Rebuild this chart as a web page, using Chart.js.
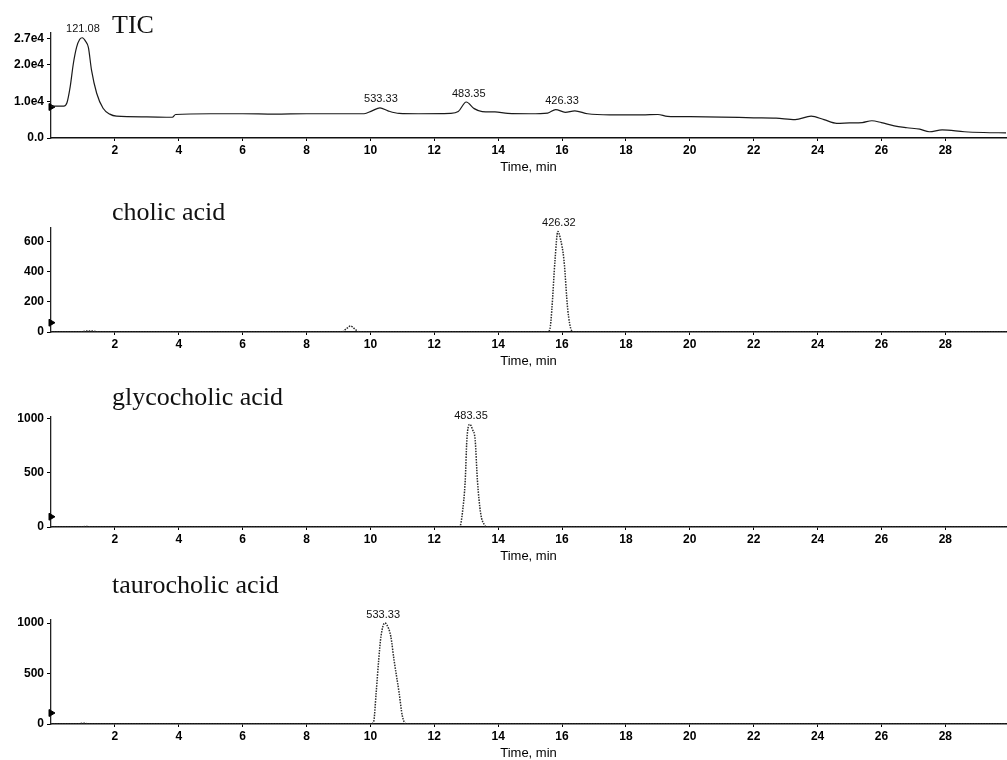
<!DOCTYPE html>
<html>
<head>
<meta charset="utf-8">
<script src="https://cdn.jsdelivr.net/npm/chart.js@4.4.0/dist/chart.umd.min.js"></script>
<style>
body{margin:0;background:#fff;}
#wrap{position:relative;width:1007px;height:760px;overflow:hidden;background:#fff;}
canvas{position:absolute;left:0;}
.ttl{position:absolute;left:112px;font:26px/26px "Liberation Serif","Times New Roman",serif;color:#111;white-space:nowrap;}
</style>
</head>
<body>
<div id="wrap">
<canvas id="tic-chart" width="1011" height="178" style="top:0px"></canvas>
<canvas id="cholic-chart" width="1011" height="182" style="top:190px"></canvas>
<canvas id="glyco-chart" width="1011" height="184" style="top:380px"></canvas>
<canvas id="tauro-chart" width="1011" height="191" style="top:570px"></canvas>
<div class="ttl" style="top:12px">TIC</div>
<div class="ttl" style="top:199px">cholic acid</div>
<div class="ttl" style="top:384px">glycocholic acid</div>
<div class="ttl" style="top:572px">taurocholic acid</div>
</div>
<script>
// retention time axis (min)
const xTicks = [2, 4, 6, 8, 10, 12, 14, 16, 18, 20, 22, 24, 26, 28]
const xTitle = "Time, min"

// TIC
const ticTime = [0, 0.4, 0.5, 0.6, 0.7, 0.8, 0.9, 0.98, 1.08, 1.17, 1.27, 1.43, 1.63, 1.84, 2.05, 3.0, 3.8, 3.9, 5.0, 6.0, 7.0, 8.0, 9.0, 9.8, 10.05, 10.3, 10.55, 10.9, 11.5, 12.5, 12.75, 13.0, 13.25, 13.5, 13.9, 14.3, 15.0, 15.55, 15.8, 16.1, 16.4, 16.8, 17.5, 18.5, 19.0, 19.3, 20.0, 21.0, 22.0, 22.7, 23.3, 23.8, 24.2, 24.6, 25.0, 25.4, 25.7, 26.0, 26.4, 26.8, 27.2, 27.5, 27.9, 28.6, 29.2, 29.9]
const ticIntensity = [8700, 8700, 9600, 13900, 20300, 24700, 26900, 27300, 26400, 24700, 18400, 12200, 8100, 6500, 5950, 5750, 5650, 6400, 6600, 6600, 6500, 6600, 6600, 6600, 7400, 8200, 7400, 6700, 6600, 6700, 7200, 9800, 8000, 7200, 7100, 6700, 6600, 6800, 7750, 7000, 7400, 6600, 6300, 6300, 6400, 5900, 5800, 5700, 5500, 5400, 5000, 5950, 5000, 4000, 4100, 4200, 4700, 4200, 3300, 2800, 2400, 1700, 2200, 1700, 1500, 1400]
const ticYTicks = [0, 10000, 20000, 27000]
const ticYLabels = ["0.0", "1.0e4", "2.0e4", "2.7e4"]
const ticPeakTimes = [1.0, 10.33, 13.08, 16.0]
const ticPeakValues = [27300, 8200, 9800, 7750]
const ticPeakTexts = ["121.08", "533.33", "483.35", "426.33"]

// cholic acid
const cholicTime = [0, 0.9, 1.1, 1.3, 1.5, 9.1, 9.25, 9.38, 9.5, 9.65, 15.55, 15.62, 15.68, 15.78, 15.87, 15.95, 16.06, 16.18, 16.3, 16.4, 29.9]
const cholicIntensity = [0, 0, 6, 6, 0, 0, 22, 40, 22, 0, 0, 20, 147, 480, 670, 620, 480, 147, 10, 0, 0]
const cholicYTicks = [0, 200, 400, 600]
const cholicYLabels = ["0", "200", "400", "600"]
const cholicPeakTimes = [15.9]
const cholicPeakValues = [670]
const cholicPeakTexts = ["426.32"]

// glycocholic acid
const glycoTime = [0, 0.9, 1.1, 1.3, 12.75, 12.81, 12.88, 12.97, 13.02, 13.11, 13.2, 13.28, 13.35, 13.45, 13.57, 13.68, 29.9]
const glycoIntensity = [0, 0, 5, 0, 0, 10, 130, 435, 805, 950, 900, 805, 435, 130, 20, 0, 0]
const glycoYTicks = [0, 500, 1000]
const glycoYLabels = ["0", "500", "1000"]
const glycoPeakTimes = [13.15]
const glycoPeakValues = [950]
const glycoPeakTexts = ["483.35"]

// taurocholic acid
const tauroTime = [0, 0.8, 1.0, 1.2, 10.0, 10.1, 10.18, 10.26, 10.33, 10.45, 10.52, 10.64, 10.74, 10.9, 11.0, 11.12, 29.9]
const tauroIntensity = [0, 0, 8, 0, 0, 20, 307, 634, 865, 1000, 980, 865, 634, 307, 80, 0, 0]
const tauroYTicks = [0, 500, 1000]
const tauroYLabels = ["0", "500", "1000"]
const tauroPeakTimes = [10.4]
const tauroPeakValues = [1000]
const tauroPeakTexts = ["533.33"]

// baseline arrow on the y axis
const ticMarker = 8450
const cholicMarker = 62
const glycoMarker = 95
const tauroMarker = 109

const SANS = '"Liberation Sans", Arial, Helvetica, sans-serif'

const peakLabels = {
    id: 'peakLabels',
    afterDatasetsDraw(chart, args, opts){
        const ctx = chart.ctx
        const xs = chart.scales.x
        const ys = chart.scales.y
        ctx.save()
        ctx.font = '11px ' + SANS
        ctx.fillStyle = '#111'
        ctx.textAlign = 'center'
        ctx.textBaseline = 'bottom'
        opts.texts.forEach((txt, i) => {
            ctx.fillText(txt, xs.getPixelForValue(opts.times[i]), ys.getPixelForValue(opts.values[i]) - 3)
        })
        ctx.restore()
    }
}

function makePanel(id, times, values, yMax, yTicks, yLabels, peakTimes, peakValues, peakTexts, marker, padTop, padBottom, dotted){
    const ctx = document.getElementById(id).getContext('2d')
    const data = {
        datasets: [
            {
                data: times.map((t, i) => ({x: t, y: values[i]})),
                borderColor: dotted ? '#2a2a2a' : '#1a1a1a',
                borderWidth: dotted ? 1.5 : 1.2,
                borderDash: dotted ? [1.5, 1.2] : [],
                pointRadius: 0,
                cubicInterpolationMode: 'monotone',
                fill: false,
            },
            {
                data: [{x: 0, y: marker}],
                showLine: false,
                pointStyle: 'triangle',
                rotation: 90,
                pointRadius: 4,
                backgroundColor: '#000',
                borderColor: '#000',
                clip: false,
            }
        ]
    }
    const config = {
        type: 'line',
        data: data,
        plugins: [peakLabels],
        options: {
            responsive: false,
            animation: false,
            layout: {padding: {top: padTop, bottom: padBottom, left: 0, right: 0}},
            plugins: {
                legend: {display: false},
                tooltip: {enabled: false},
                peakLabels: {times: peakTimes, values: peakValues, texts: peakTexts}
            },
            scales: {
                x: {
                    type: 'linear',
                    min: 0,
                    max: 29.9,
                    afterBuildTicks: (scale) => { scale.ticks = xTicks.map(v => ({value: v})) },
                    ticks: {
                        color: '#000',
                        font: {family: SANS, size: 12, weight: 'bold'},
                        padding: 2,
                        maxRotation: 0,
                        autoSkip: false,
                    },
                    grid: {drawOnChartArea: false, tickLength: 3, color: '#000'},
                    border: {color: '#111', width: 1.5},
                    title: {
                        display: true,
                        text: xTitle,
                        color: '#000',
                        font: {family: SANS, size: 13},
                        padding: {top: 0, bottom: 0}
                    }
                },
                y: {
                    type: 'linear',
                    min: 0,
                    max: yMax,
                    afterFit: (scale) => { scale.width = 51 },
                    afterBuildTicks: (scale) => { scale.ticks = yTicks.map(v => ({value: v})) },
                    ticks: {
                        color: '#000',
                        font: {family: SANS, size: 12, weight: 'bold'},
                        padding: 3,
                        callback: function (value, index) {
                            return yLabels[index]
                        }
                    },
                    grid: {drawOnChartArea: false, tickLength: 4, color: '#000'},
                    border: {color: '#222', width: 1.3, dash: [1, 1]}
                }
            }
        }
    }
    return new Chart(ctx, config)
}

makePanel('tic-chart', ticTime, ticIntensity, 28600, ticYTicks, ticYLabels, ticPeakTimes, ticPeakValues, ticPeakTexts, ticMarker, 33, 3, false)
makePanel('cholic-chart', cholicTime, cholicIntensity, 693, cholicYTicks, cholicYLabels, cholicPeakTimes, cholicPeakValues, cholicPeakTexts, cholicMarker, 38, 3, true)
makePanel('glyco-chart', glycoTime, glycoIntensity, 1018, glycoYTicks, glycoYLabels, glycoPeakTimes, glycoPeakValues, glycoPeakTexts, glycoMarker, 37, 0, true)
makePanel('tauro-chart', tauroTime, tauroIntensity, 1030, tauroYTicks, tauroYLabels, tauroPeakTimes, tauroPeakValues, tauroPeakTexts, tauroMarker, 50, 0, true)
</script>
</body>
</html>
